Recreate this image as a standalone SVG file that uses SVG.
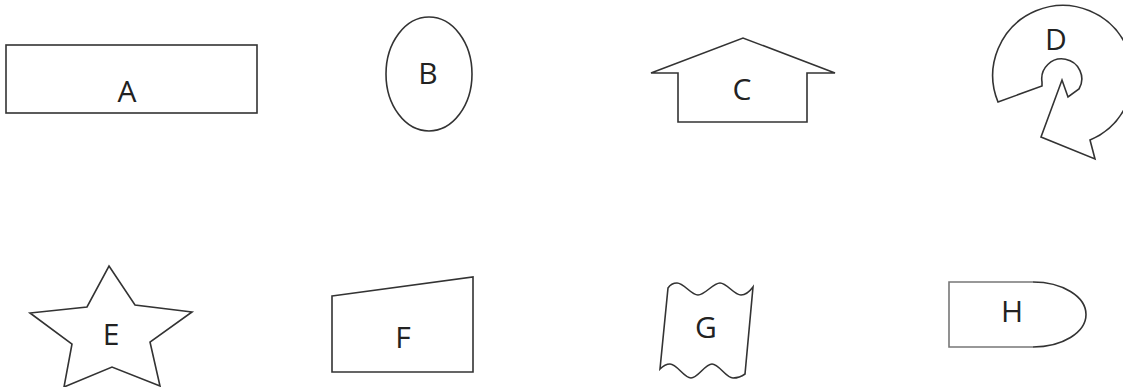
<svg xmlns="http://www.w3.org/2000/svg" width="1123" height="387" viewBox="0 0 1123 387">
<style>
.shape{fill:#fff;stroke:#333;stroke-width:1.6;stroke-linejoin:miter}
.lbl{font-family:"Open Sans","Liberation Sans",sans-serif;font-size:30px;fill:#222;text-anchor:middle}
</style>
<rect width="1123" height="387" fill="#fff"/>
<g id="node-A">
<rect class="shape" x="6" y="45" width="251" height="68"/>
<text class="lbl" x="127" y="101.5">A</text>
</g>
<g id="node-B">
<ellipse class="shape" cx="429" cy="74" rx="43" ry="57"/>
<text class="lbl" x="428" y="84">B</text>
</g>
<g id="node-C">
<polygon class="shape" points="651,73 743,38 835,73 807,73 807,122 678,122 678,73"/>
<text class="lbl" x="742" y="100">C</text>
</g>
<g id="node-D">
<path class="shape" d="M998,102 L1042,86 L1042,82 A20,20 0 1 1 1079,89 L1068,97 L1062,80 L1041,137 L1095,159 L1090,140 A70,70 0 1 0 998,102 Z"/>
<text class="lbl" x="1056" y="50">D</text>
</g>
<g id="node-E">
<polygon class="shape" points="109,266 135,305 192,312 150,342 160,386 112,367 64,387 72,344 30,313 87,307"/>
<text class="lbl" x="111" y="345">E</text>
</g>
<g id="node-F">
<polygon class="shape" points="332,296 473,277 473,372 332,372"/>
<text class="lbl" x="403" y="348">F</text>
</g>
<g id="node-G">
<path class="shape" d="M668,288 C670,285 673,283 677,283 C684,283 691,295 698,295 C705,295 713,283 720,283 C727,283 734,295 741,295 C746,295 750,291 753,287 L745,374 C741,377 737,378 733,378 C726,378 719,364 712,364 C705,364 698,378 691,378 C684,378 677,364 670,364 C665,364 662,367 660,369 Z"/>
<text class="lbl" x="706" y="338">G</text>
</g>
<g id="node-H">
<path d="M1033,282 L949,282 L949,347 L1033,347 A53,32.5 0 0 0 1033,282 Z" fill="#fff" stroke="none"/>
<path d="M1033,282 L949,282 L949,347 L1033,347" fill="none" stroke="#777" stroke-width="1.6"/>
<path d="M1033,347 A53,32.5 0 0 0 1033,282" fill="none" stroke="#333" stroke-width="1.6"/>
<text class="lbl" x="1012" y="322">H</text>
</g>
<g id="connectors"></g>
</svg>
